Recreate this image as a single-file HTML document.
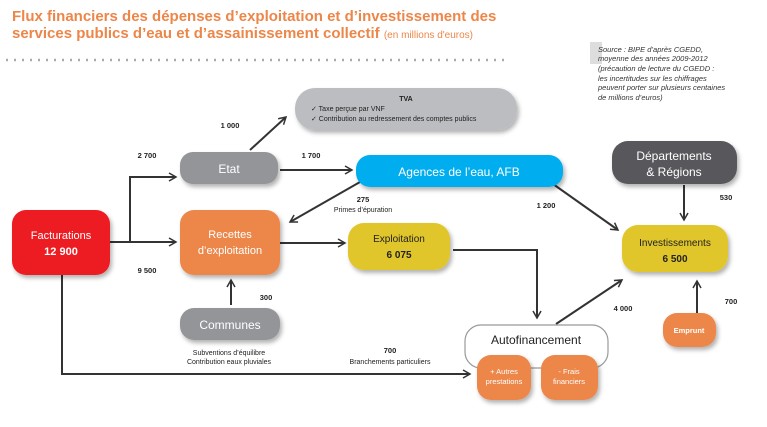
<!DOCTYPE html>
<html><head><meta charset="utf-8"><style>
html,body{margin:0;padding:0;background:#fff}
svg{display:block;font-family:"Liberation Sans",sans-serif}
</style></head><body>
<svg width="767" height="427" viewBox="0 0 767 427" xmlns="http://www.w3.org/2000/svg">
<defs>
<marker id="a" markerWidth="10" markerHeight="10" refX="8" refY="5" orient="auto" markerUnits="userSpaceOnUse">
<path d="M1,1 L8,5 L1,9" fill="none" stroke="#333" stroke-width="1.5"/></marker>
<filter id="s" x="-20%" y="-20%" width="150%" height="160%"><feDropShadow dx="2" dy="3" stdDeviation="2" flood-color="#000" flood-opacity="0.3"/></filter>
</defs>
<text x="12" y="21" font-size="15" font-weight="bold" fill="#ec8649">Flux financiers des dépenses d’exploitation et d’investissement des</text>
<text x="12" y="38" font-size="15" font-weight="bold" fill="#ec8649">services publics d’eau et d’assainissement collectif <tspan font-size="10" font-weight="normal">(en millions d'euros)</tspan></text>
<line x1="6" y1="60" x2="505" y2="60" stroke="#aaa" stroke-width="2.5" stroke-dasharray="2,6"/>
<rect x="590" y="42" width="12" height="22" fill="#ddd"/>
<g font-size="7.5" font-style="italic" fill="#333">
<text x="598" y="52">Source : BIPE d’après CGEDD,</text>
<text x="598" y="61">moyenne des années 2009-2012</text>
<text x="598" y="71">(précaution de lecture du CGEDD :</text>
<text x="598" y="81">les incertitudes sur les chiffrages</text>
<text x="598" y="90">peuvent porter sur plusieurs centaines</text>
<text x="598" y="100">de millions d’euros)</text>
</g>
<g stroke="#333" stroke-width="2" fill="none">
<polyline points="110,242 130,242 130,177 176,177" marker-end="url(#a)"/>
<line x1="130" y1="242" x2="176" y2="242" marker-end="url(#a)"/>
<polyline points="62,275 62,374 470,374" marker-end="url(#a)"/>
<line x1="250" y1="150" x2="286" y2="117" marker-end="url(#a)"/>
<line x1="280" y1="170" x2="352" y2="170" marker-end="url(#a)"/>
<line x1="360" y1="182" x2="290" y2="222" marker-end="url(#a)"/>
<line x1="553" y1="184" x2="618" y2="230" marker-end="url(#a)"/>
<line x1="280" y1="243" x2="345" y2="243" marker-end="url(#a)"/>
<polyline points="453,250 537,250 537,318" marker-end="url(#a)"/>
<line x1="556" y1="324" x2="622" y2="280" marker-end="url(#a)"/>
<line x1="684" y1="185" x2="684" y2="220" marker-end="url(#a)"/>
<line x1="697" y1="313" x2="697" y2="281" marker-end="url(#a)"/>
<line x1="231" y1="305" x2="231" y2="280" marker-end="url(#a)"/>
</g>
<g filter="url(#s)">
<rect x="295" y="88" width="222" height="42" rx="20" fill="#bcbdc0"/>
<rect x="180" y="152" width="98" height="32" rx="13" fill="#939598"/>
<rect x="356" y="155" width="207" height="32" rx="14" fill="#00aeef"/>
<rect x="612" y="141" width="125" height="43" rx="16" fill="#58595b"/>
<rect x="12" y="210" width="98" height="65" rx="14" fill="#ed1c24"/>
<rect x="180" y="210" width="100" height="65" rx="14" fill="#ec8649"/>
<rect x="348" y="223" width="102" height="47" rx="16" fill="#e0c62a"/>
<rect x="622" y="225" width="106" height="47" rx="16" fill="#e0c62a"/>
<rect x="180" y="308" width="100" height="32" rx="14" fill="#939598"/>
<rect x="663" y="313" width="53" height="34" rx="14" fill="#ec8649"/>
</g>
<rect x="465" y="325" width="143" height="43" rx="16" fill="#fff" stroke="#999" stroke-width="1.2"/>
<g filter="url(#s)">
<rect x="477" y="355" width="54" height="45" rx="14" fill="#ec8649"/>
<rect x="541" y="355" width="57" height="45" rx="14" fill="#ec8649"/>
</g>
<g text-anchor="middle">
<text x="406" y="101" font-size="7" font-weight="bold" fill="#222">TVA</text>
<text x="311" y="111" font-size="7" fill="#222" text-anchor="start">✓ Taxe perçue par VNF</text>
<text x="311" y="121" font-size="7" fill="#222" text-anchor="start">✓ Contribution au redressement des comptes publics</text>
<text x="229" y="173" font-size="12" fill="#fff">Etat</text>
<text x="459" y="176" font-size="12" fill="#fff">Agences de l’eau, AFB</text>
<text x="674" y="160" font-size="12" fill="#fff">Départements</text>
<text x="674" y="176" font-size="12" fill="#fff">&amp; Régions</text>
<text x="61" y="239" font-size="11" fill="#fff">Facturations</text>
<text x="61" y="255" font-size="11" font-weight="bold" fill="#fff">12 900</text>
<text x="230" y="238" font-size="11" fill="#fff">Recettes</text>
<text x="230" y="254" font-size="11" fill="#fff">d’exploitation</text>
<text x="399" y="242" font-size="10" fill="#222">Exploitation</text>
<text x="399" y="258" font-size="10" font-weight="bold" fill="#222">6 075</text>
<text x="675" y="246" font-size="10" fill="#222">Investissements</text>
<text x="675" y="262" font-size="10" font-weight="bold" fill="#222">6 500</text>
<text x="230" y="329" font-size="12" fill="#fff">Communes</text>
<text x="536" y="344" font-size="12" fill="#222">Autofinancement</text>
<text x="504" y="374" font-size="7.5" fill="#fff">+ Autres</text>
<text x="504" y="384" font-size="7.5" fill="#fff">prestations</text>
<text x="569" y="374" font-size="7.5" fill="#fff">- Frais</text>
<text x="569" y="384" font-size="7.5" fill="#fff">financiers</text>
<text x="689" y="333" font-size="7.5" font-weight="bold" fill="#fff">Emprunt</text>
</g>
<g font-size="7.5" font-weight="bold" fill="#222" text-anchor="middle">
<text x="230" y="128">1 000</text>
<text x="147" y="158">2 700</text>
<text x="311" y="158">1 700</text>
<text x="363" y="202">275</text>
<text x="546" y="208">1 200</text>
<text x="726" y="200">530</text>
<text x="147" y="273">9 500</text>
<text x="266" y="300">300</text>
<text x="623" y="311">4 000</text>
<text x="731" y="304">700</text>
<text x="390" y="353">700</text>
</g>
<g font-size="7" fill="#222" text-anchor="middle">
<text x="363" y="212">Primes d’épuration</text>
<text x="390" y="364">Branchements particuliers</text>
<text x="229" y="355">Subventions d’équilibre</text>
<text x="229" y="364">Contribution eaux pluviales</text>
</g>
</svg>
</body></html>
